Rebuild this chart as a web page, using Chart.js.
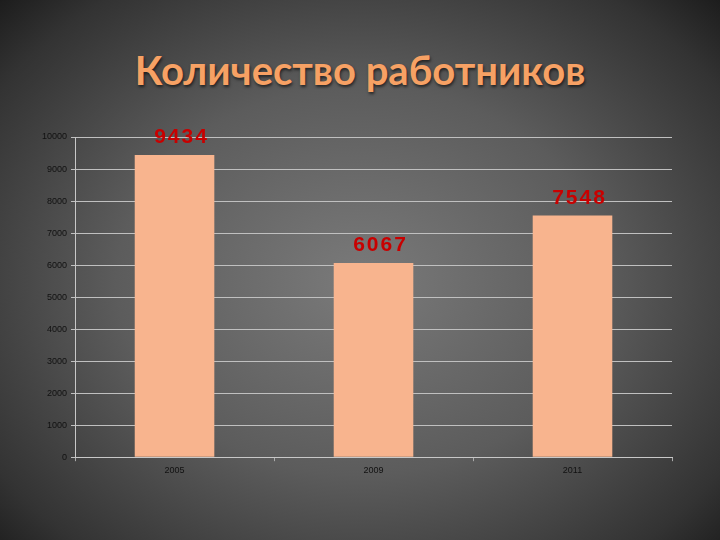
<!DOCTYPE html>
<html><head><meta charset="utf-8">
<script src="https://cdn.jsdelivr.net/npm/chart.js@4"></script>
<style>
html,body{margin:0;padding:0;width:720px;height:540px;overflow:hidden;}
body{background:radial-gradient(ellipse 75% 80% at 50% 52%, #7a7a7a 0%, #5c5c5c 45%, #333 80%, #111 100%);}
#wrap{position:absolute;left:0;top:0;width:720px;height:540px;}
#title{position:absolute;left:0;top:46px;width:720px;text-align:center;font-family:Lato,'Open Sans',sans-serif;font-weight:bold;font-size:40px;line-height:48px;color:#f7a164;text-shadow:1px 2px 3px rgba(0,0,0,0.6);}
</style></head>
<body>
<div id="title">Количество работников</div>
<div id="wrap"><canvas id="c" width="720" height="540"></canvas></div>
<script>
const categories = ["2005", "2009", "2011"];
const values = [9434, 6067, 7548];
const yTicks = [0,1000,2000,3000,4000,5000,6000,7000,8000,9000,10000];

const labelPlugin = {
  id: 'vlabels',
  afterDatasetsDraw(chart) {
    const ctx = chart.ctx;
    const meta = chart.getDatasetMeta(0);
    ctx.save();
    ctx.font = 'bold 21px "Liberation Sans", Arial, sans-serif';
    ctx.fillStyle = '#c80000';
    ctx.textAlign = 'center';
    ctx.textBaseline = 'bottom';
    if (ctx.letterSpacing !== undefined) ctx.letterSpacing = '2px';
    meta.data.forEach((bar, i) => {
      ctx.fillText(String(values[i]), bar.x + 7, bar.y - 7);
    });
    ctx.restore();
  }
};

new Chart(document.getElementById('c'), {
  type: 'bar',
  data: {
    labels: categories,
    datasets: [{
      data: values,
      backgroundColor: '#f8b48e',
      borderWidth: 0,
      barPercentage: 0.40,
      categoryPercentage: 1.0
    }]
  },
  options: {
    responsive: false,
    animation: false,
    layout: { padding: { left: 38, right: 48, top: 137, bottom: 60 } },
    plugins: { legend: { display: false }, tooltip: { enabled: false }, title: { display: false } },
    scales: {
      x: {
        grid: { display: true, drawOnChartArea: false, color: '#aaa', tickLength: 4, offset: true },
        border: { color: '#c8c8c8', width: 1 },
        ticks: { color: '#111', font: { family: 'Liberation Sans', size: 9 }, padding: 4 }
      },
      y: {
        min: 0, max: 10000,
        afterBuildTicks(axis) { axis.ticks = yTicks.map(v => ({ value: v })); },
        grid: { color: '#c0c0c0', lineWidth: 1, tickLength: 4 },
        border: { color: '#c8c8c8', width: 1 },
        ticks: { color: '#111', font: { family: 'Liberation Sans', size: 9 }, padding: 4,
                 callback: (v) => String(v) }
      }
    }
  },
  plugins: [labelPlugin]
});
</script>
</body></html>
